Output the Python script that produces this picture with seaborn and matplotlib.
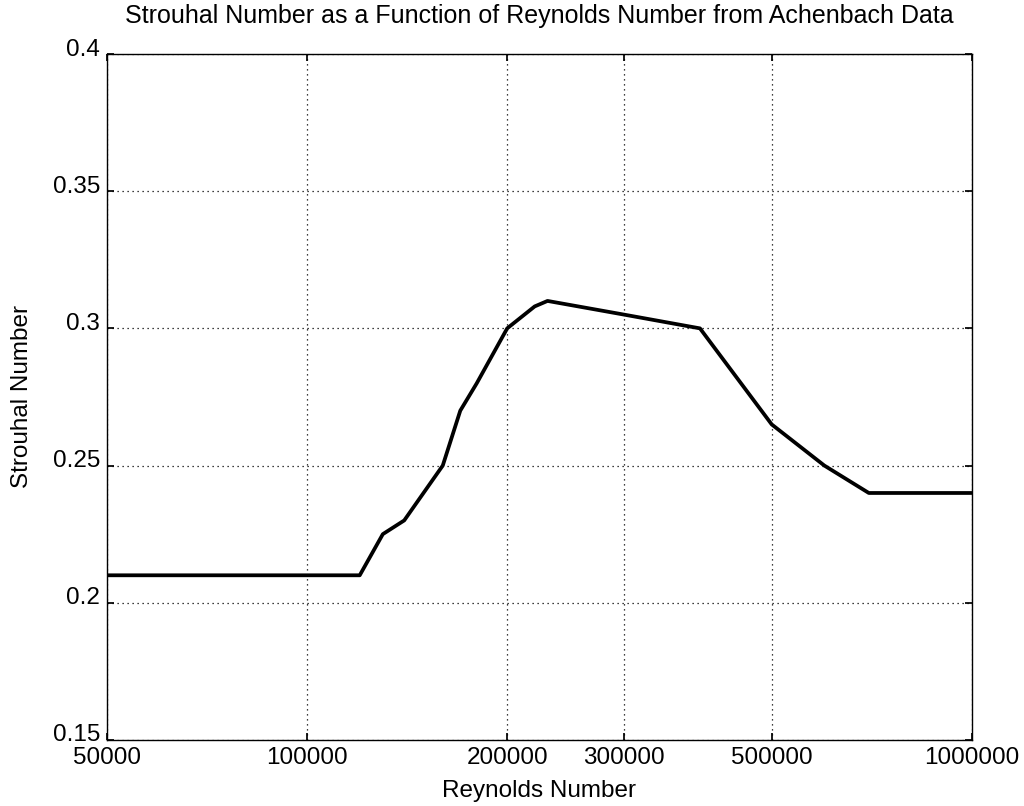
import matplotlib
matplotlib.use("Agg")
import matplotlib.pyplot as plt
import matplotlib.ticker as mticker
import matplotlib.transforms as mtransforms
import seaborn as sns
import pandas as pd

# Achenbach data: Strouhal number vs Reynolds number
reynolds = [50000, 120000, 130000, 140000, 160000, 170000, 180000, 200000,
            220000, 230000, 300000, 390000, 500000, 600000, 700000, 1000000]
strouhal = [0.21, 0.21, 0.225, 0.23, 0.25, 0.27, 0.28, 0.30,
            0.308, 0.31, 0.305, 0.30, 0.265, 0.25, 0.24, 0.24]

x_ticks = [50000, 100000, 200000, 300000, 500000, 1000000]
y_ticks = [0.15, 0.2, 0.25, 0.3, 0.35, 0.4]
y_tick_labels = ["0.15", "0.2", "0.25", "0.3", "0.35", "0.4"]

sns.set_theme(style="white")
plt.rcParams["font.family"] = ["Liberation Sans", "DejaVu Sans"]

df = pd.DataFrame({"Re": reynolds, "St": strouhal})

fig = plt.figure(figsize=(10.24, 8.06), dpi=100)
ax = fig.add_axes([0.1045, 0.082, 0.8445, 0.851])

sns.lineplot(data=df, x="Re", y="St", ax=ax, color="black", linewidth=2.7,
             sort=False, estimator=None)

ax.set_xscale("log")
ax.set_xlim(50000, 1000000)
ax.set_ylim(0.15, 0.4)
ax.xaxis.set_major_locator(mticker.FixedLocator(x_ticks))
ax.xaxis.set_major_formatter(mticker.FixedFormatter([str(v) for v in x_ticks]))
ax.xaxis.set_minor_locator(mticker.NullLocator())
ax.set_yticks(y_ticks)
ax.set_yticklabels(y_tick_labels)

ax.grid(True, color="black", linestyle=(0, (1, 3)), linewidth=0.9)
for s in ax.spines.values():
    s.set_color("black")
    s.set_linewidth(1.0)

ax.tick_params(axis="both", direction="in", length=5, color="black",
               labelsize=17.5, labelcolor="black")
ax.tick_params(axis="x", pad=5)
ax.tick_params(axis="y", pad=5)
ax.tick_params(top=True, right=True, bottom=True, left=True)

# y tick labels sit slightly above their ticks
shift = mtransforms.ScaledTranslation(0, 7 / 100, fig.dpi_scale_trans)
for lbl in ax.get_yticklabels():
    lbl.set_transform(lbl.get_transform() + shift)

ax.set_xlabel("Reynolds Number", fontsize=17.5, color="black", labelpad=8)
ax.set_ylabel("Strouhal Number", fontsize=17.5, color="black", labelpad=14)
ax.set_title("Strouhal Number as a Function of Reynolds Number from Achenbach Data",
             fontsize=18, color="black", pad=22)

fig.savefig("out.png", dpi=100, facecolor="white")
